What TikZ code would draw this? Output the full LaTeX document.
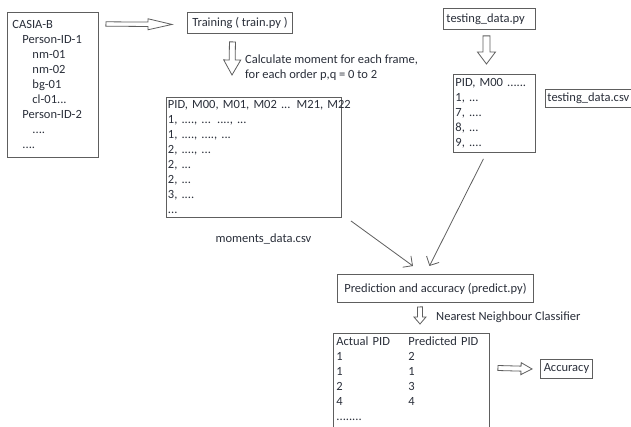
\documentclass[tikz,border=0pt]{standalone}
\usepackage{fontspec}
\setmainfont{Carlito}
\usetikzlibrary{arrows.meta, positioning, calc}
\usepackage{xcolor}
\definecolor{Ink}{HTML}{2A2F3A}
\definecolor{Edge}{HTML}{5E5E5E}

\begin{document}
\begin{tikzpicture}[
            x=1pt, y=-1pt,
            box/.style={
                rectangle,
                draw=Edge,
                fill=white,
                line width=0.9pt,
                anchor=north west,
                align=left,
                inner xsep=3pt,
                inner ysep=2pt,
                font=\fontsize{12.5}{15}\selectfont,
                text=Ink
            },
            note/.style={inner sep=0pt, font=\fontsize{12.5}{15}\selectfont, text=Ink},
            link/.style={-{Straight Barb[length=7pt,width=14pt]}, draw=Edge, line width=0.8pt},
            hollow/.style n args={3}{
                draw=Edge, fill=white, line width=0.8pt, line join=miter,
                to path={let \p1=($(\tikztotarget)!#3!(\tikztostart)$) in
                    ($(\tikztostart)!#1!90:(\tikztotarget)$) -- ($(\p1)!#1!90:(\tikztotarget)$)
                    -- ($(\p1)!#2!90:(\tikztotarget)$) -- (\tikztotarget)
                    -- ($(\p1)!#2!-90:(\tikztotarget)$) -- ($(\p1)!#1!-90:(\tikztotarget)$)
                    -- ($(\tikztostart)!#1!-90:(\tikztotarget)$) -- cycle}
            }
        ]
            \useasboundingbox (0,0) rectangle (631,427);
            \clip (0,0) rectangle (631,427);
            \fill[white] (0,0) rectangle (631,427);

            % Training side
            \node[box, text width=81pt, minimum width=91pt, minimum height=145pt, inner xsep=5pt] (casia) at (7,12)
                {CASIA-B\\\hspace*{10pt}Person-ID-1\\\hspace*{20pt}nm-01\\\hspace*{20pt}nm-02\\\hspace*{20pt}bg-01\\\hspace*{20pt}cl-01...\\\hspace*{10pt}Person-ID-2\\\hspace*{20pt}....\\\hspace*{10pt}....};
            \node[box, align=center, minimum width=105pt, minimum height=21pt] (train) at (187,12) {Training ( train.py )};
            \node[box, text width=172pt, minimum width=175pt, minimum height=120pt, inner xsep=1.5pt] (moments) at (166,97)
                {\mbox{PID, M00, M01, M02 ... M21, M22}\\1, ...., ... ...., ...\\1, ...., ...., ...\\2, ...., ...\\2, ...\\2, ...\\3, ....\\...};
            \node[note] (momlabel) at ($(moments.south)+(9.5,21)$) {moments\_data.csv};
            \node[note, anchor=west, align=left] (calcnote) at ($(train.south)+(5,33.5)$)
                {Calculate moment for each frame,\\for each order p,q = 0 to 2};

            % Testing side
            \node[box, text width=86pt, minimum width=92pt, minimum height=21pt] (testpy) at (443,8) {testing\_data.py};
            \node[box, text width=78pt, minimum width=82pt, minimum height=78pt, inner xsep=2pt] (testcsv) at (453,74)
                {PID, M00 ......\\1, ...\\7, ....\\8, ...\\9, ....};
            \node[box, text width=82pt, minimum width=86pt, minimum height=18pt, inner xsep=2pt] (testlabel) at (545,89) {testing\_data.csv};

            % Prediction
            \node[box, align=center, minimum width=196pt, minimum height=28pt] (predict) at (337,274) {Prediction and accuracy (predict.py)};
            \node[note, anchor=west] (nnlabel) at ($(predict.south west)+(99,14)$) {Nearest Neighbour Classifier};
            \node[box, text width=150pt, inner ysep=3pt] (result) at (333,333)
                {\makebox[72pt][l]{Actual PID}Predicted PID\\\makebox[72pt][l]{1}2\\\makebox[72pt][l]{1}1\\\makebox[72pt][l]{2}3\\\makebox[72pt][l]{4}4\\........\par\vspace*{12pt}};
            \node[box, align=center, minimum width=52pt, minimum height=19pt, inner sep=2pt] (accuracy) at (540,359) {Accuracy};

            % Block arrows
            \draw[hollow={2.2pt}{5.5pt}{24pt}] ($(casia.north east)+(7,12)$) to ($(train.west)+(-15,1.5)$);
            \draw[hollow={3pt}{8.5pt}{15pt}] ($(train.south)+(-7.5,8)$) to ($(moments.north west)+(66,-22)$);
            \draw[hollow={3.5pt}{9pt}{12pt}] ($(testpy.south)+(-3,6)$) to ($(testcsv.north)+(-8,-10)$);
            \draw[hollow={2.5pt}{6pt}{7pt}] ($(predict.south)+(-15.5,4)$) to ($(result.north west)+(87,-9)$);
            \draw[hollow={2.5pt}{6pt}{11pt}] ($(result.north east)+(8,35)$) to ($(accuracy.west)+(-8,0)$);

            % Into prediction
            \draw[link] ($(moments.south east)+(9,3)$) -- ($(predict.north)+(-22.5,-8)$);
            \draw[link] ($(testcsv.south)+(-11,6)$) -- ($(predict.north)+(-6,-8)$);
        \end{tikzpicture}
\end{document}
